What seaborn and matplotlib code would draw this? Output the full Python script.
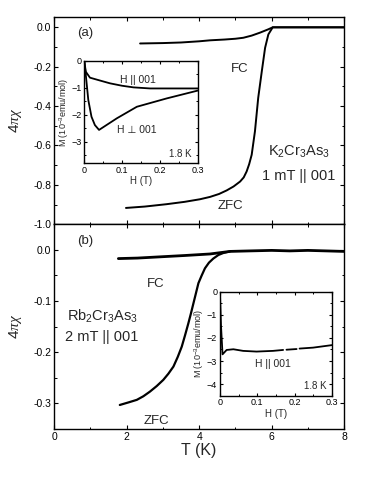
import numpy as np
import pandas as pd
import seaborn as sns
import matplotlib
matplotlib.use("Agg")
import matplotlib.pyplot as plt
from matplotlib.ticker import MultipleLocator

# ---------------- data ----------------
# panel (a): K2Cr3As3, 1 mT || 001
a_fc_T = [2.37, 3.0, 3.5, 4.0, 4.3, 4.7, 5.0, 5.22, 5.45, 5.68, 5.91, 6.03, 7.0, 8.0]
a_fc_chi = [-0.082, -0.080, -0.077, -0.071, -0.066, -0.062, -0.058, -0.053, -0.042, -0.027, -0.010, 0.0, 0.0, 0.0]
a_zfc_T = [1.98, 2.5, 3.1, 3.6, 4.02, 4.3, 4.55, 4.76, 4.95, 5.13, 5.23, 5.31, 5.38, 5.45,
           5.54, 5.63, 5.73, 5.82, 5.91, 6.03, 7.0, 8.0]
a_zfc_chi = [-0.917, -0.910, -0.898, -0.886, -0.873, -0.861, -0.846, -0.828, -0.808, -0.783,
             -0.762, -0.732, -0.695, -0.647, -0.528, -0.358, -0.222, -0.104, -0.036, 0.0, 0.0, 0.0]

# inset (a): M(H) at 1.8 K
ia_par_H = [0, 0.004, 0.015, 0.04, 0.068, 0.1, 0.13, 0.174, 0.22, 0.3]
ia_par_M = [0, -0.40, -0.62, -0.72, -0.83, -0.92, -0.98, -1.02, -1.02, -1.02]
ia_perp_H = [0, 0.0044, 0.0106, 0.019, 0.028, 0.039, 0.086, 0.139, 0.218, 0.3]
ia_perp_M = [0, -0.58, -1.45, -2.07, -2.38, -2.56, -2.13, -1.70, -1.39, -1.10]

# panel (b): Rb2Cr3As3, 2 mT || 001
b_fc_T = [1.77, 2.3, 2.92, 3.6, 4.30, 4.85, 5.4, 6.0, 6.5, 7.0, 7.5, 8.0]
b_fc_chi = [-0.017, -0.016, -0.0136, -0.011, -0.008, -0.003, -0.002, -0.001, -0.002, -0.001, -0.002, -0.003]
b_zfc_T = [1.81, 2.05, 2.28, 2.46, 2.64, 2.83, 3.01, 3.15, 3.29, 3.41, 3.52, 3.61, 3.70, 3.77,
           3.84, 3.91, 3.98, 4.07, 4.16, 4.27, 4.39, 4.53, 4.67, 4.85]
b_zfc_chi = [-0.303, -0.298, -0.293, -0.286, -0.277, -0.266, -0.254, -0.242, -0.228, -0.209,
             -0.189, -0.167, -0.144, -0.125, -0.105, -0.085, -0.065, -0.050, -0.036, -0.025,
             -0.017, -0.010, -0.006, -0.003]

# inset (b): M(H) at 1.8 K, H || 001 (three measured segments)
ib_H1 = [0, 0.003, 0.007, 0.018, 0.036, 0.062, 0.098, 0.142, 0.169]
ib_M1 = [0, -1.5, -2.71, -2.52, -2.49, -2.56, -2.59, -2.56, -2.52]
ib_H2 = [0.178, 0.196, 0.205]
ib_M2 = [-2.51, -2.49, -2.48]
ib_H3 = [0.213, 0.249, 0.3]
ib_M3 = [-2.46, -2.42, -2.31]

# ---------------- style ----------------
sns.set_style("ticks")
plt.rcParams['font.family'] = ['Liberation Sans', 'DejaVu Sans']
plt.rcParams['mathtext.fontset'] = 'custom'
plt.rcParams['mathtext.rm'] = 'Liberation Sans'
plt.rcParams['mathtext.it'] = 'Liberation Serif:italic'
plt.rcParams['axes.linewidth'] = 1.0

fig = plt.figure(figsize=(3.74, 4.84), dpi=100)
ax_a = fig.add_axes([0.145, 0.5366, 0.775, 0.4273])
ax_b = fig.add_axes([0.145, 0.1136, 0.775, 0.4230])


def style_axes(ax, fs):
    ax.tick_params(which='both', direction='in', top=True, right=True,
                   labelsize=fs, colors='black', pad=2)
    ax.tick_params(which='major', length=3, width=0.8)
    ax.tick_params(which='minor', length=1.8, width=0.7)
    for s in ax.spines.values():
        s.set_color('black')


def line(ax, x, y, lw):
    df = pd.DataFrame({'x': x, 'y': y})
    sns.lineplot(data=df, x='x', y='y', ax=ax, color='black', lw=lw,
                 sort=False, estimator=None)
    ax.set_xlabel('')
    ax.set_ylabel('')


# ---- panel (a)
line(ax_a, a_fc_T, a_fc_chi, 1.4)
line(ax_a, a_zfc_T, a_zfc_chi, 1.4)
ax_a.set_xlim(0, 8)
ax_a.set_ylim(-1.0, 0.05)
ax_a.xaxis.set_major_locator(MultipleLocator(2))
ax_a.xaxis.set_minor_locator(MultipleLocator(1))
ax_a.set_yticks([0.0, -0.2, -0.4, -0.6, -0.8, -1.0])
ax_a.set_yticklabels(['0.0', '-0.2', '-0.4', '-0.6', '-0.8', '-1.0'])
ax_a.yaxis.set_minor_locator(MultipleLocator(0.1))
ax_a.tick_params(labelbottom=False)
style_axes(ax_a, 7.5)
ax_a.set_ylabel(r'$4\pi\chi$', fontsize=11, labelpad=7)
ax_a.text(0.08, 0.91, '(a)', transform=ax_a.transAxes, fontsize=9.5)
ax_a.text(0.61, 0.735, 'FC', transform=ax_a.transAxes, fontsize=9.5)
ax_a.text(0.565, 0.075, 'ZFC', transform=ax_a.transAxes, fontsize=9.5)
ax_a.text(0.845, 0.33, r'K$_2$Cr$_3$As$_3$', transform=ax_a.transAxes,
          fontsize=10.5, ha='center')
ax_a.text(0.845, 0.215, '1 mT || 001', transform=ax_a.transAxes,
          fontsize=10.5, ha='center')

# ---- inset (a)
ia = fig.add_axes([0.2254, 0.6626, 0.3032, 0.2114])
line(ia, ia_par_H, ia_par_M, 1.3)
line(ia, ia_perp_H, ia_perp_M, 1.3)
ia.set_xlim(0, 0.3)
ia.set_ylim(-3.8, 0)
ia.set_xticks([0, 0.1, 0.2, 0.3])
ia.set_xticklabels(['0', '0.1', '0.2', '0.3'])
ia.set_yticks([0, -1, -2, -3])
ia.xaxis.set_minor_locator(MultipleLocator(0.05))
ia.yaxis.set_minor_locator(MultipleLocator(0.5))
style_axes(ia, 6.5)
ia.tick_params(which='major', length=2.2)
ia.tick_params(which='minor', length=1.3)
ia.set_xlabel('H (T)', fontsize=7, labelpad=1)
ia.set_ylabel(r'M (10$^{-3}$emu/mol)', fontsize=6.5, labelpad=1)
ia.text(0.47, 0.78, 'H || 001', transform=ia.transAxes, fontsize=7.5, ha='center')
ia.text(0.46, 0.30, 'H \u22a5 001', transform=ia.transAxes, fontsize=7.5, ha='center')
ia.text(0.95, 0.06, '1.8 K', transform=ia.transAxes, fontsize=7, ha='right')

# ---- panel (b)
line(ax_b, b_fc_T, b_fc_chi, 2.0)
line(ax_b, b_zfc_T, b_zfc_chi, 1.6)
ax_b.set_xlim(0, 8)
ax_b.set_ylim(-0.35, 0.05)
ax_b.set_xticks([0, 2, 4, 6, 8])
ax_b.xaxis.set_minor_locator(MultipleLocator(1))
ax_b.set_yticks([0.0, -0.1, -0.2, -0.3])
ax_b.set_yticklabels(['0.0', '-0.1', '-0.2', '-0.3'])
ax_b.yaxis.set_minor_locator(MultipleLocator(0.05))
style_axes(ax_b, 7.5)
ax_b.set_ylabel(r'$4\pi\chi$', fontsize=11, labelpad=7)
ax_b.set_xlabel('T (K)', fontsize=11.5, labelpad=1)
ax_b.text(0.08, 0.905, '(b)', transform=ax_b.transAxes, fontsize=9.5)
ax_b.text(0.32, 0.695, 'FC', transform=ax_b.transAxes, fontsize=9.5)
ax_b.text(0.31, 0.025, 'ZFC', transform=ax_b.transAxes, fontsize=9.5)
ax_b.text(0.165, 0.53, r'Rb$_2$Cr$_3$As$_3$', transform=ax_b.transAxes,
          fontsize=10.5, ha='center')
ax_b.text(0.165, 0.43, '2 mT || 001', transform=ax_b.transAxes,
          fontsize=10.5, ha='center')

# ---- inset (b)
ib = fig.add_axes([0.588, 0.1824, 0.300, 0.2149])
line(ib, ib_H1, ib_M1, 1.3)
line(ib, ib_H2, ib_M2, 1.3)
line(ib, ib_H3, ib_M3, 1.3)
ib.set_xlim(0, 0.3)
ib.set_ylim(-4.5, 0)
ib.set_xticks([0, 0.1, 0.2, 0.3])
ib.set_xticklabels(['0', '0.1', '0.2', '0.3'])
ib.set_yticks([0, -1, -2, -3, -4])
ib.xaxis.set_minor_locator(MultipleLocator(0.05))
ib.yaxis.set_minor_locator(MultipleLocator(0.5))
style_axes(ib, 6.5)
ib.tick_params(which='major', length=2.2)
ib.tick_params(which='minor', length=1.3)
ib.set_xlabel('H (T)', fontsize=7, labelpad=1)
ib.set_ylabel(r'M (10$^{-3}$emu/mol)', fontsize=6.5, labelpad=1)
ib.text(0.47, 0.28, 'H || 001', transform=ib.transAxes, fontsize=7.5, ha='center')
ib.text(0.95, 0.06, '1.8 K', transform=ib.transAxes, fontsize=7, ha='right')

fig.savefig('out.png', dpi=100)
